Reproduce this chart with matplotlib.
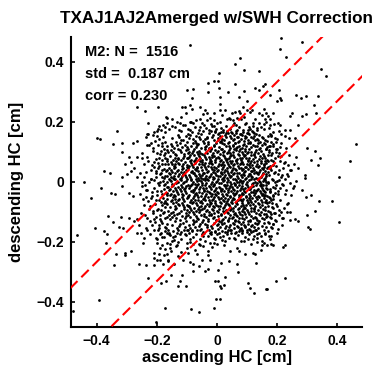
import numpy as np
import matplotlib
matplotlib.use('Agg')
import matplotlib.pyplot as plt

# Points, (ascending, descending) in thousandths of a cm.
# Sparse points around the cloud, read one by one
outer_points = [
    (-265, 250), (-240, 236), (-196, 250), (-170, 214), (-228, 195), (-192, 186), (-178, 188), (-165, 195),
    (-331, 167), (-209, 164), (-234, 158), (-200, 169),
    (-89, 455), (76, 411), (61, 391), (89, 372), (8, 361), (141, 369), (-11, 336), (3, 336), (59, 325),
    (-31, 330), (-78, 308), (-100, 305), (-83, 278), (8, 313), (-28, 299), (89, 302), (128, 313), (139, 306),
    (37, 297), (11, 282), (72, 283), (100, 269), (-117, 250), (-106, 250), (-89, 256), (-83, 241), (-56, 247),
    (-39, 239), (-33, 230), (11, 258), (9, 239), (-11, 230), (50, 228), (61, 232), (72, 236), (87, 247),
    (100, 239), (111, 232), (139, 228), (156, 243), (-150, 186), (-167, 213), (-122, 195), (-106, 188),
    (-91, 199), (-78, 195), (-56, 210), (-33, 206), (-44, 188), (-11, 186), (0, 195), (14, 180), (-6, 169),
    (6, 161), (39, 213), (44, 208), (56, 195), (67, 213), (80, 208), (94, 191), (106, 183), (120, 195),
    (133, 180), (156, 191), (13, 165), (30, 161), (47, 165), (63, 163), (80, 158), (102, 163), (124, 161),
    (214, 480), (283, 466), (211, 441), (229, 416), (347, 375), (364, 353), (159, 325), (153, 319), (175, 288),
    (206, 306), (209, 280), (214, 273), (200, 269), (264, 288), (281, 280), (295, 286), (336, 286), (322, 255),
    (164, 230), (170, 219), (159, 210), (175, 208), (186, 228), (242, 219), (251, 230), (284, 219), (297, 225),
    (331, 230), (203, 195), (175, 188), (162, 197), (211, 188), (225, 172), (242, 172), (270, 188), (181, 155),
    (214, 157),
    (153, 144), (181, 153), (192, 144), (240, 144), (259, 146), (301, 113), (325, 102), (462, 124), (262, 83),
    (314, 72), (344, 80), (336, 55), (444, 68), (177, 119), (197, 110), (211, 116), (164, 108), (170, 88),
    (184, 94), (203, 86), (159, 77), (186, 68), (209, 68), (225, 64), (236, 55), (270, 46), (242, 38),
    (220, 44), (170, 49), (181, 38), (192, 33), (203, 24), (214, 16), (225, 10), (233, 24), (292, 22),
    (292, 13), (406, 16), (264, 2), (255, -14), (283, -28), (314, -45), (295, -51), (340, -65), (384, -65),
    (153, -12), (164, -23), (175, -34), (159, -45), (186, -45), (203, -43), (197, -12), (220, -12), (209, -23),
    (164, -67), (181, -62), (170, -81), (186, -87), (159, -95), (175, -101), (192, -106), (164, -117),
    (181, -123), (170, -134), (197, -132), (233, -76), (214, -101), (242, -101), (259, -125), (270, -132),
    (242, -128), (220, -123), (301, -110), (325, -98), (406, -134), (303, -151), (309, -158), (203, -158),
    (158, 128), (168, 135), (187, 126), (173, 100), (196, 98), (155, 60), (178, 52), (162, 20), (185, 5),
    (170, -3), (158, -30), (192, -20), (176, -55), (200, -80), (162, -150), (185, -142), (155, -108), (168, -48),
    (-400, 146), (-389, 142), (-345, 124), (-315, 127), (-315, 99), (-278, 127), (-265, 135), (-237, 149),
    (-229, 157), (-211, 155), (-200, 153), (-220, 127), (-293, 83), (-267, 83), (-248, 79), (-304, 57),
    (-285, 64), (-215, 55), (-374, 35), (-354, 30), (-315, 16), (-298, 24), (-287, 35), (-276, 46), (-265, 16),
    (-256, 27), (-443, 0), (-387, -21), (-315, -14), (-351, -39), (-340, -43), (-291, -39), (-280, -47),
    (-420, -56), (-361, -115), (-318, -117), (-345, -134), (-404, -154), (-376, -165), (-293, -123),
    (-276, -132), (-326, -151), (-311, -156),
    (-231, 122), (-211, 113), (-196, 122), (-187, 102), (-200, 94), (-176, 88), (-165, 105), (-193, 79),
    (-209, 64), (-182, 60), (-165, 68), (-196, 46), (-220, 38), (-204, 27), (-187, 30), (-170, 35), (-182, 16),
    (-159, 10), (-243, 16), (-226, -1), (-209, 5), (-196, -6), (-176, -12), (-165, -17), (-248, -14),
    (-237, -28), (-215, -36), (-198, -32), (-182, -40), (-165, -45), (-237, -51), (-220, -56), (-204, -62),
    (-187, -67), (-170, -73), (-243, -78), (-226, -90), (-198, -95), (-176, -101), (-159, -110), (-231, -121),
    (-209, -125), (-187, -132), (-165, -140), (-215, -145), (-193, -154), (-170, -156), (-237, -156),
    (-254, -106), (-265, -125), (-259, -145),
    (-466, -178), (-365, -174), (-370, -204), (-334, -243), (-307, -237), (-304, -245), (-285, -230),
    (-343, -278), (-393, -396), (-477, -433), (-265, -171), (-251, -171), (-223, -176), (-234, -160),
    (-196, -160), (-189, -174), (-204, -187), (-182, -185), (-165, -171), (-156, -178), (-243, -187),
    (-245, -204), (-198, -204), (-182, -210), (-165, -204), (-189, -221), (-174, -226), (-156, -221),
    (-209, -237), (-193, -241), (-165, -241), (-209, -256), (-200, -260), (-189, -260), (-163, -263),
    (-176, -245), (-259, -274), (-237, -278), (-209, -278), (-178, -276), (-229, -323), (-187, -337),
    (-170, -332), (-204, -467), (-172, -421),
    (-161, -160), (-145, -165), (-128, -160), (-111, -163), (-95, -160), (-84, -163), (-56, -163), (-158, -176),
    (-139, -182), (-123, -174), (-106, -176), (-143, -196), (-128, -201), (-156, -207), (-134, -210),
    (-100, -204), (-89, -193), (-50, -174), (-45, -182), (-23, -171), (-6, -167), (0, -176), (-11, -187),
    (11, -185), (28, -167), (44, -163), (61, -171), (72, -165), (83, -160), (100, -167), (111, -160),
    (127, -163), (139, -171), (155, -160), (161, -176), (122, -182), (133, -187), (150, -198), (150, -210),
    (105, -193), (89, -198), (61, -193), (39, -187), (28, -198), (16, -196), (0, -207), (-23, -204),
    (-39, -198), (-56, -212), (-78, -207),
    (-154, -232), (-95, -237), (-67, -241), (-128, -248), (-114, -260), (-31, -230), (-161, -265), (-143, -274),
    (-91, -267), (-78, -276), (-50, -260), (-23, -260), (-61, -282), (-28, -293), (-39, -298), (-78, -298),
    (2, -296), (13, -271), (39, -265), (66, -276), (72, -232), (120, -237), (127, -243), (131, -271),
    (70, -301), (-154, -310), (-117, -310), (-123, -330), (-128, -348), (-102, -348), (-6, -332), (2, -332),
    (28, -318), (9, -348), (13, -356), (24, -345), (105, -337), (109, -354), (124, -371), (163, -357),
    (-2, -393), (9, -393), (-87, -424), (-58, -434), (-9, -421),
    (166, -211), (179, -207), (188, -211), (227, -211), (221, -218), (197, -333), (166, -358), (227, -322),
    (155, -205),
]

# Edge of the dense cloud, where it thins out (estimated)
fringe_points = [
    # left side
    (-172, 183), (-185, 172), (-178, 150), (-194, 141), (-171, 131), (-206, 134), (-183, 118), (-175, 109),
    (-214, 103), (-190, 92), (-172, 80), (-201, 76), (-181, 71), (-228, 69), (-174, 58), (-193, 52),
    (-210, 47), (-176, 41), (-235, 33), (-188, 24), (-171, 19), (-203, 15), (-219, 7), (-180, 2), (-250, -3),
    (-173, -8), (-192, -13), (-208, -20), (-177, -24), (-231, -27), (-186, -33), (-170, -38), (-200, -44),
    (-215, -49), (-178, -55), (-191, -60), (-173, -66), (-228, -65), (-205, -74), (-184, -79), (-171, -86),
    (-196, -92), (-214, -97), (-178, -104), (-189, -113), (-172, -121), (-203, -118), (-224, -131),
    (-181, -137), (-194, -146), (-171, -152), (-208, -162), (-186, -171), (-176, -184), (-199, -193),
    (-242, 57), (-256, -41), (-238, -110), (-249, 94), (-226, 123), (-172, 166), (-196, 176), (-218, 10),
    (-239, -12), (-183, 37), (-197, 62), (-175, -72), (-207, -135), (-185, -95), (-173, 95), (-221, -82),
    (-190, -2), (-177, 12), (-204, 36), (-184, 128), (-172, -165), (-246, -58), (-232, 82), (-213, -105),
    (-188, -125),
    # right side
    (173, 178), (188, 166), (171, 152), (199, 143), (179, 133), (214, 128), (186, 117), (172, 104), (205, 96),
    (181, 87), (194, 79), (170, 70), (222, 63), (185, 55), (176, 44), (208, 38), (191, 29), (172, 21),
    (235, 17), (183, 10), (199, 1), (171, -6), (216, -9), (187, -17), (176, -26), (203, -31), (193, -39),
    (228, -43), (173, -50), (185, -58), (210, -61), (174, -69), (196, -76), (182, -84), (223, -89), (171, -97),
    (189, -104), (205, -112), (176, -119), (194, -127), (173, -138), (215, -146), (184, -155), (171, -166),
    (199, -172), (179, -181), (246, 37), (252, -20), (238, -70), (241, 88), (229, 112), (177, -191),
    (190, 191), (208, 4), (244, -5), (180, 72), (197, 52), (175, -33), (206, -94), (186, -140), (172, 117),
    (218, -120), (188, -48), (175, 158), (201, 109), (230, -28), (181, -107), (171, 31), (213, 84), (192, -1),
    (256, 59), (234, -102), (179, -150), (225, 152), (205, 168), (247, -45), (183, -70), (196, 131),
    (173, -180), (218, 22),
    # top
    (-158, 174), (-141, 181), (-127, 173), (-112, 189), (-96, 176), (-85, 198), (-72, 183), (-61, 172),
    (-48, 194), (-37, 178), (-25, 171), (-15, 186), (-3, 175), (9, 199), (21, 172), (31, 184), (42, 176),
    (53, 189), (66, 173), (75, 182), (88, 171), (97, 196), (109, 176), (121, 186), (132, 172), (145, 181),
    (158, 174), (-150, 208), (-119, 216), (-68, 205), (-22, 213), (18, 221), (52, 204), (91, 214), (127, 207),
    (150, 222), (-103, 230), (-45, 226), (27, 238), (78, 229), (116, 240), (-132, 197), (-8, 204), (63, 190),
    (-89, 172), (35, 207), (102, 172), (-55, 181), (140, 195), (-18, 192),
    # bottom
    (-160, -172), (-147, -184), (-133, -171), (-119, -190), (-104, -178), (-93, -170), (-80, -186),
    (-68, -175), (-55, -193), (-43, -171), (-31, -182), (-18, -176), (-5, -191), (7, -172), (19, -183),
    (33, -176), (47, -171), (58, -188), (70, -178), (84, -172), (95, -185), (108, -175), (119, -193),
    (133, -174), (146, -181), (159, -170), (-137, -214), (-98, -222), (-61, -208), (-15, -218), (23, -213),
    (68, -221), (113, -209), (145, -227), (-120, -236), (-72, -229), (-30, -244), (44, -233), (92, -240),
    (-150, -197), (-8, -205), (81, -198), (-88, -201), (132, -203), (-45, -214),
]

# Dense middle of the cloud, estimated band by band (too crowded to read singly)
core_points = [
    # y ~ 0.16
    (-131, 155), (-118, 168), (-104, 151), (-97, 160), (-83, 166), (-71, 153), (-64, 162),
    (-52, 157), (-45, 169), (-33, 150), (-26, 161), (-14, 154), (-6, 166), (3, 158), (11, 151), (19, 164),
    (27, 156), (34, 169), (42, 152), (49, 161), (57, 155), (63, 167), (71, 150), (78, 159), (86, 165),
    (93, 153), (101, 162), (108, 157), (116, 168), (124, 151), (131, 160), (139, 155),
    (-88, 154), (-20, 167), (38, 163), (82, 156), (120, 164),
    # y ~ 0.14
    (-149, 144), (-137, 131), (-126, 148), (-112, 139), (-101, 133), (-93, 146), (-79, 141),
    (-68, 130), (-59, 149), (-47, 136), (-38, 143), (-29, 132), (-17, 147), (-9, 138), (2, 145), (9, 131),
    (17, 142), (24, 137), (31, 149), (39, 133), (46, 144), (53, 139), (61, 130), (68, 147), (74, 136),
    (81, 142), (89, 134), (96, 149), (104, 140), (111, 131), (119, 145), (127, 137), (134, 143), (142, 132),
    (151, 148), (159, 139), (-121, 140), (-74, 135), (-33, 146), (13, 134), (57, 141), (92, 145),
    (137, 138), (-55, 142), (5, 140), (70, 132), (115, 148),
    # y ~ 0.12
    (-165, 118), (-154, 126), (-143, 112), (-134, 121), (-122, 128), (-115, 114), (-106, 123), (-96, 110),
    (-87, 119), (-78, 127), (-70, 115), (-62, 124), (-53, 111), (-44, 129), (-36, 117), (-28, 125), (-19, 113),
    (-11, 121), (-3, 128), (6, 116), (14, 110), (22, 124), (29, 119), (37, 127), (45, 113), (52, 122),
    (60, 129), (67, 115), (75, 120), (83, 111), (90, 126), (98, 118), (105, 130), (113, 114), (120, 123),
    (128, 117), (136, 128), (144, 112), (151, 121), (159, 126), (166, 115), (-149, 119), (-101, 116),
    (-66, 121), (-41, 114), (-8, 117), (18, 129), (41, 120), (64, 111), (86, 122), (110, 127), (132, 120),
    (-25, 111), (55, 117),
    # y ~ 0.10
    (-162, 97), (-151, 104), (-140, 93), (-131, 108), (-119, 99), (-110, 91), (-103, 106), (-92, 100),
    (-84, 94), (-75, 109), (-67, 97), (-58, 103), (-49, 91), (-41, 107), (-32, 96), (-24, 102), (-16, 90),
    (-7, 105), (1, 98), (9, 93), (16, 108), (24, 101), (32, 95), (39, 106), (47, 90), (54, 99), (62, 104),
    (70, 92), (77, 109), (85, 97), (92, 103), (100, 94), (108, 107), (115, 99), (123, 91), (131, 105),
    (138, 96), (146, 102), (154, 93), (163, 108), (-145, 100), (-124, 106), (-97, 95), (-80, 101), (-62, 92),
    (-36, 99), (-12, 96), (5, 103), (20, 97), (36, 100), (58, 108), (73, 101), (88, 92), (104, 100), (126, 98),
    (141, 109), (-55, 96), (-20, 108), (44, 96), (95, 108),
    # y ~ 0.08
    (-166, 76), (-157, 84), (-146, 73), (-137, 88), (-128, 79), (-118, 71), (-109, 86), (-101, 77), (-93, 83),
    (-85, 72), (-76, 89), (-68, 78), (-60, 84), (-51, 71), (-43, 87), (-35, 75), (-27, 81), (-19, 70),
    (-11, 86), (-3, 77), (4, 83), (12, 72), (20, 88), (27, 79), (35, 74), (43, 85), (50, 70), (58, 81),
    (66, 76), (73, 89), (81, 73), (89, 84), (96, 78), (104, 71), (112, 87), (119, 75), (127, 82), (135, 70),
    (143, 86), (150, 77), (158, 84), (165, 73), (-141, 80), (-114, 78), (-89, 88), (-72, 73), (-55, 80),
    (-39, 83), (-23, 76), (-7, 72), (8, 80), (24, 84), (39, 78), (54, 88), (62, 72), (78, 80), (93, 87),
    (108, 79), (123, 88), (139, 76), (-131, 75), (-97, 80), (-15, 82), (30, 71), (85, 77),
    # y ~ 0.06
    (-164, 57), (-153, 65), (-144, 52), (-136, 68), (-125, 59), (-117, 51), (-107, 64), (-99, 56), (-90, 69),
    (-82, 54), (-73, 62), (-65, 50), (-56, 67), (-48, 58), (-40, 63), (-31, 52), (-23, 69), (-15, 57),
    (-6, 64), (2, 53), (10, 68), (18, 60), (25, 55), (33, 66), (41, 51), (48, 62), (56, 57), (64, 69),
    (71, 53), (79, 63), (87, 58), (95, 50), (102, 67), (110, 61), (117, 54), (125, 65), (133, 59), (140, 51),
    (148, 68), (156, 56), (163, 63), (-149, 60), (-130, 62), (-112, 58), (-94, 52), (-77, 67), (-61, 60),
    (-44, 54), (-27, 61), (-10, 50), (6, 59), (21, 64), (37, 58), (52, 54), (68, 61), (83, 66), (99, 60),
    (114, 68), (129, 53), (145, 62), (160, 69), (-138, 57), (-86, 61), (-51, 64), (-18, 63), (14, 56),
    (45, 67), (76, 57), (106, 55),
    # y ~ 0.04
    (-167, 38), (-158, 45), (-148, 33), (-139, 48), (-130, 40), (-121, 31), (-113, 46), (-104, 37), (-95, 44),
    (-87, 32), (-78, 49), (-70, 39), (-62, 35), (-53, 47), (-45, 30), (-37, 42), (-28, 36), (-20, 49),
    (-12, 33), (-4, 45), (4, 38), (12, 31), (20, 47), (28, 40), (35, 34), (43, 48), (51, 37), (59, 43),
    (67, 30), (74, 46), (82, 39), (90, 33), (97, 49), (105, 41), (113, 35), (121, 44), (129, 31), (136, 48),
    (144, 38), (152, 42), (160, 34), (166, 46), (-152, 40), (-134, 35), (-116, 42), (-98, 48), (-82, 36),
    (-66, 44), (-49, 39), (-33, 32), (-16, 43), (0, 35), (16, 41), (32, 46), (47, 32), (63, 38), (79, 44),
    (94, 36), (110, 47), (125, 39), (141, 33), (157, 48), (-143, 44), (-108, 32), (-74, 41), (-41, 47),
    (-8, 40), (24, 33), (55, 45), (86, 41), (118, 36), (149, 45),
    # y ~ 0.02
    (-165, 17), (-156, 24), (-147, 12), (-138, 28), (-129, 19), (-120, 11), (-112, 26), (-103, 15), (-94, 22),
    (-86, 10), (-77, 27), (-69, 18), (-61, 24), (-52, 13), (-44, 29), (-36, 20), (-27, 14), (-19, 26),
    (-11, 11), (-3, 23), (5, 17), (13, 29), (21, 12), (28, 21), (36, 27), (44, 15), (52, 24), (59, 10),
    (67, 19), (75, 28), (83, 14), (91, 22), (98, 11), (106, 26), (114, 18), (122, 29), (130, 13), (137, 24),
    (145, 16), (153, 27), (161, 11), (-160, 29), (-142, 20), (-125, 25), (-107, 21), (-90, 14), (-73, 23),
    (-56, 19), (-39, 11), (-23, 18), (-7, 27), (9, 20), (25, 16), (40, 22), (56, 28), (71, 12), (87, 25),
    (102, 19), (118, 14), (133, 28), (149, 21), (164, 25), (-151, 14), (-116, 17), (-81, 29), (-48, 22),
    (-14, 16), (17, 25), (48, 18), (79, 21), (110, 24), (141, 12), (-64, 12), (32, 13),
    # y ~ 0
    (-166, -3), (-157, 5), (-148, -8), (-139, 7), (-131, -1), (-122, 9), (-113, -6), (-104, 3), (-96, -10),
    (-87, 6), (-79, -2), (-70, 8), (-62, -7), (-53, 1), (-45, 10), (-37, -4), (-28, 4), (-20, -9), (-12, 7),
    (-4, -1), (4, 9), (12, -6), (20, 2), (28, -10), (36, 5), (44, -3), (52, 8), (60, -8), (68, 0), (76, 6),
    (84, -5), (92, 10), (100, -2), (108, 4), (116, -9), (124, 7), (132, -4), (140, 3), (148, -7), (156, 9),
    (164, -1), (-152, 1), (-135, -5), (-118, 4), (-100, 8), (-83, -8), (-66, 3), (-49, -6), (-32, 9),
    (-16, -3), (0, 2), (16, 8), (32, -2), (48, -9), (64, 5), (80, 1), (96, -7), (112, 9), (128, 0), (144, -3),
    (160, 6), (-143, 10), (-108, -3), (-74, -9), (-41, 5), (-8, -7), (24, 6), (56, -5), (88, 3), (120, -6),
    (152, 2), (-58, 6), (8, -4), (72, -1), (136, 8),
    # y ~ -0.02
    (-164, -17), (-155, -25), (-146, -12), (-137, -28), (-128, -19), (-119, -11), (-111, -26), (-102, -15),
    (-93, -22), (-85, -10), (-76, -27), (-68, -18), (-60, -24), (-51, -13), (-43, -29), (-35, -20), (-26, -14),
    (-18, -26), (-10, -11), (-2, -23), (6, -17), (14, -29), (22, -12), (29, -21), (37, -27), (45, -15),
    (53, -24), (60, -10), (68, -19), (76, -28), (84, -14), (92, -22), (99, -11), (107, -26), (115, -18),
    (123, -29), (131, -13), (138, -24), (146, -16), (154, -27), (162, -11), (-159, -29), (-141, -20),
    (-124, -25), (-106, -21), (-89, -14), (-72, -23), (-55, -19), (-38, -11), (-22, -18), (-6, -27), (10, -20),
    (26, -16), (41, -22), (57, -28), (72, -12), (88, -25), (103, -19), (119, -14), (134, -28), (150, -21),
    (165, -25), (-150, -14), (-115, -17), (-80, -29), (-47, -22), (-13, -16), (18, -25), (49, -18), (80, -21),
    (111, -24), (142, -12), (-65, -12), (33, -13),
    # y ~ -0.04
    (-166, -38), (-157, -45), (-147, -33), (-138, -48), (-129, -40), (-120, -31), (-112, -46), (-103, -37),
    (-94, -44), (-86, -32), (-77, -49), (-69, -39), (-61, -35), (-52, -47), (-44, -30), (-36, -42), (-27, -36),
    (-19, -49), (-11, -33), (-3, -45), (5, -38), (13, -31), (21, -47), (29, -40), (36, -34), (44, -48),
    (52, -37), (60, -43), (68, -30), (75, -46), (83, -39), (91, -33), (98, -49), (106, -41), (114, -35),
    (122, -44), (130, -31), (137, -48), (145, -38), (153, -42), (161, -34), (-151, -40), (-133, -35),
    (-115, -42), (-97, -48), (-81, -36), (-65, -44), (-48, -39), (-32, -32), (-15, -43), (1, -35), (17, -41),
    (33, -46), (48, -32), (64, -38), (80, -44), (95, -36), (111, -47), (126, -39), (142, -33), (158, -48),
    (-142, -44), (-107, -32), (-73, -41), (-40, -47), (-7, -40), (25, -33), (56, -45), (87, -41), (119, -36),
    (150, -45), (-23, -38),
    # y ~ -0.06
    (-165, -57), (-154, -65), (-145, -52), (-135, -68), (-126, -59), (-116, -51), (-108, -64), (-98, -56),
    (-91, -69), (-81, -54), (-74, -62), (-64, -50), (-57, -67), (-47, -58), (-39, -63), (-30, -52), (-22, -69),
    (-14, -57), (-5, -64), (3, -53), (11, -68), (19, -60), (26, -55), (34, -66), (42, -51), (49, -62),
    (57, -57), (65, -69), (72, -53), (80, -63), (88, -58), (96, -50), (103, -67), (111, -61), (118, -54),
    (126, -65), (134, -59), (141, -51), (149, -68), (157, -56), (164, -63), (-150, -60), (-131, -62),
    (-113, -58), (-95, -52), (-78, -67), (-62, -60), (-43, -54), (-26, -61), (-9, -50), (7, -59), (22, -64),
    (38, -58), (53, -54), (69, -61), (84, -66), (100, -60), (115, -68), (130, -53), (146, -62), (161, -69),
    (-139, -57), (-87, -61), (-52, -64), (-17, -63), (15, -56), (46, -67), (77, -57), (107, -55),
    # y ~ -0.08
    (-165, -76), (-156, -84), (-145, -73), (-136, -88), (-127, -79), (-117, -71), (-108, -86), (-100, -77),
    (-92, -83), (-84, -72), (-75, -89), (-67, -78), (-59, -84), (-50, -71), (-42, -87), (-34, -75), (-26, -81),
    (-18, -70), (-10, -86), (-2, -77), (5, -83), (13, -72), (21, -88), (28, -79), (36, -74), (44, -85),
    (51, -70), (59, -81), (67, -76), (74, -89), (82, -73), (90, -84), (97, -78), (105, -71), (113, -87),
    (120, -75), (128, -82), (136, -70), (144, -86), (151, -77), (159, -84), (166, -73), (-140, -80),
    (-113, -78), (-88, -88), (-71, -73), (-54, -80), (-38, -83), (-22, -76), (-6, -72), (9, -80), (25, -84),
    (40, -78), (55, -88), (63, -72), (79, -80), (94, -87), (109, -79), (124, -88), (140, -76), (-130, -75),
    (-96, -80), (-14, -82), (31, -71), (86, -77),
    # y ~ -0.10
    (-163, -97), (-152, -104), (-141, -93), (-132, -108), (-120, -99), (-111, -91), (-104, -106), (-93, -100),
    (-85, -94), (-76, -109), (-68, -97), (-59, -103), (-50, -91), (-42, -107), (-33, -96), (-25, -102),
    (-17, -90), (-8, -105), (0, -98), (8, -93), (15, -108), (23, -101), (31, -95), (38, -106), (46, -90),
    (53, -99), (61, -104), (69, -92), (76, -109), (84, -97), (91, -103), (99, -94), (107, -107), (114, -99),
    (122, -91), (130, -105), (137, -96), (145, -102), (153, -93), (162, -108), (-146, -100), (-125, -106),
    (-98, -95), (-81, -101), (-63, -92), (-37, -99), (-13, -96), (4, -103), (19, -97), (35, -100), (57, -108),
    (72, -101), (87, -92), (103, -100), (125, -98), (140, -109), (-56, -96), (-21, -108), (43, -96),
    (94, -108),
    # y ~ -0.12
    (-166, -118), (-155, -126), (-144, -112), (-135, -121), (-123, -128), (-116, -114), (-107, -123),
    (-97, -110), (-88, -119), (-79, -127), (-71, -115), (-63, -124), (-54, -111), (-45, -129), (-37, -117),
    (-29, -125), (-20, -113), (-12, -121), (-4, -128), (5, -116), (13, -110), (21, -124), (28, -119),
    (36, -127), (44, -113), (51, -122), (59, -129), (66, -115), (74, -120), (82, -111), (89, -126), (97, -118),
    (104, -130), (112, -114), (119, -123), (127, -117), (135, -128), (143, -112), (150, -121), (158, -126),
    (165, -115), (-150, -119), (-102, -116), (-67, -121), (-42, -114), (-9, -117), (17, -129), (40, -120),
    (63, -111), (85, -122), (109, -127), (131, -120), (-26, -111), (54, -117),
    # y ~ -0.14
    (-150, -144), (-138, -131), (-127, -148), (-113, -139), (-102, -133), (-94, -146),
    (-80, -141), (-69, -130), (-60, -149), (-48, -136), (-39, -143), (-30, -132), (-18, -147), (-10, -138),
    (1, -145), (8, -131), (16, -142), (23, -137), (30, -149), (38, -133), (45, -144), (52, -139), (60, -130),
    (67, -147), (73, -136), (80, -142), (88, -134), (95, -149), (103, -140), (110, -131), (118, -145),
    (126, -137), (133, -143), (141, -132), (150, -148), (158, -139), (-122, -140), (-75, -135),
    (-34, -146), (12, -134), (56, -141), (91, -145), (136, -138), (-56, -142), (4, -140), (69, -132),
    (114, -148),
    # y ~ -0.16
    (-132, -155), (-119, -168), (-105, -151), (-98, -160), (-84, -166), (-72, -153), (-65, -162),
    (-53, -157), (-46, -169), (-34, -150), (-27, -161), (-15, -154), (-7, -166), (2, -158), (10, -151),
    (18, -164), (26, -156), (33, -169), (41, -152), (48, -161), (56, -155), (62, -167), (70, -150), (77, -159),
    (85, -165), (92, -153), (100, -162), (107, -157), (115, -168), (123, -151), (130, -160), (138, -155),
    (-89, -154), (-21, -167), (37, -163), (81, -156), (119, -164),
]

title = 'TXAJ1AJ2Amerged w/SWH Correction'
stat_lines = ['M2: N =  1516', 'std =  0.187 cm', 'corr = 0.230']
band_offset = 0.132  # dashed lines y = x +/- offset
ticks = [-0.4, -0.2, 0, 0.2, 0.4]
tick_labels = ['\u22120.4', '\u22120.2', '0', '0.2', '0.4']

plt.rcParams['font.family'] = ['Liberation Sans', 'DejaVu Sans']
plt.rcParams['font.weight'] = 'bold'

pts = np.array(outer_points + fringe_points + core_points) / 1000.0
asc = pts[:, 0]
desc = pts[:, 1]

fig = plt.figure(figsize=(3.8, 3.7), dpi=100)
ax = fig.add_axes([0.187, 0.116, 0.766, 0.785])

ax.plot(asc, desc, 'o', color='black', ms=2.0, mew=0, zorder=2)

xs = np.array([-0.6, 0.6])
for off in (band_offset, -band_offset):
    ax.plot(xs, xs + off, color='red', lw=1.5, linestyle=(0, (5, 2.6)), zorder=3)

ax.set_xlim(-0.485, 0.483)
ax.set_ylim(-0.485, 0.483)

ax.set_xticks(ticks)
ax.set_xticklabels(tick_labels)
ax.set_yticks(ticks)
ax.set_yticklabels(tick_labels)
ax.tick_params(direction='in', length=3, width=1.2, labelsize=10, pad=5)

for side in ('top', 'right'):
    ax.spines[side].set_visible(False)
for side in ('left', 'bottom'):
    ax.spines[side].set_linewidth(1.5)

ax.set_xlabel('ascending HC [cm]', fontsize=12, fontweight='bold')
ax.set_ylabel('descending HC [cm]', fontsize=12, fontweight='bold')
ax.xaxis.set_label_coords(0.5, -0.08)
ax.yaxis.set_label_coords(-0.16, 0.5)
ax.set_title(title, fontsize=12.3, fontweight='bold', pad=10)

for i, line in enumerate(stat_lines):
    ax.text(-0.437, 0.419 - i * 0.0735, line, fontsize=10.5, fontweight='bold', va='baseline', ha='left')

fig.savefig('out.png', dpi=100)
